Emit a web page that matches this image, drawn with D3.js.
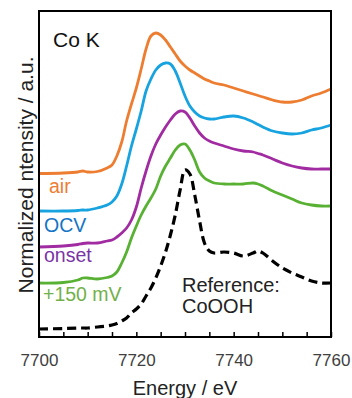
<!DOCTYPE html>
<html><head><meta charset="utf-8">
<script src="https://cdn.jsdelivr.net/npm/d3@7"></script>
<style>html,body{margin:0;padding:0;background:#fff;}svg{display:block;}</style>
</head><body>
<svg id="chart" width="352" height="398"></svg>
<script>
// Energy grid (eV)
const energy = [7700,7705,7708,7709,7710,7712,7714,7715,7716,7717,7718,7719,7720,7721,7722,7723,7724,7725,7726,7727,7728,7729,7730,7731,7732,7733,7734,7735,7736,7738,7740,7742,7744,7745,7746,7748,7750,7752,7754,7756,7758,7760];
// Normalized intensities (offset, a.u.)
const air = [163.5,164,165,166,165,165.5,169,172,181,195,216,233,249,268,288,301,304,302,297,290,283,276,271,267,264,261,258,256,254,252,249,246,243,241.5,240,237,235,235,237,241,244,248];
const ocv = [126,126,126.5,127,127,129,132,135,141,153,171,191,208,226,246,258,267,272,274,273,266,254,241,231,225,221,219,218,218,220,221,219,215,212.5,210,206,204,203,204,207,209,212];
const onset = [90,91,92.5,93.5,94,94,96,97,100,104,109,117,130,149,166,181,193,202,210,217,223,226,225,219,211,204,199,196,194,191,188,186,185,183.5,182,178,174,171,169,168,168,168];
const plus150 = [54,54.5,57,59,59,58,59.5,61,65,74,85,99,111,122,131,139,148,161,171,179,187,192,193,187,177,165,159,156,154,153,153,153,154,153,151,146,142,138,134,132,131,131];
const reference = [8,8.5,9,9,9,10,11,12,13.5,16,19,24,28,33,41,49,59,71,85,102,122,147,167,163,142,116,94,86,84,85,84,81,84,86,84,76,69,64,60,56,54,54];

const seriesNames = ["air","OCV","onset","+150 mV","Reference: CoOOH"];
const xTickLabels = [7700,7720,7740,7760];
const xMinorTicks = [7700,7705,7710,7715,7720,7725,7730,7735,7740,7745,7750,7755,7760];

const svg = d3.select("#chart");
const m = {left:39, top:11, right:331, bottom:337};
const x = d3.scaleLinear().domain([7700,7760]).range([m.left, m.right]);
const y = d3.scaleLinear().domain([0,326]).range([m.bottom, m.top]);

const font = "'Liberation Sans', Arial, sans-serif";

const series = [
  {name: seriesNames[0], vals: air, color:"#ED7D31", label:"#ED7D31", lx:49, ly:193},
  {name: seriesNames[1], vals: ocv, color:"#16A3DF", label:"#1574C4", lx:44, ly:232},
  {name: seriesNames[2], vals: onset, color:"#A12BA1", label:"#7A34A6", lx:44, ly:262},
  {name: seriesNames[3], vals: plus150, color:"#58B133", label:"#72B04A", lx:43, ly:301},
];

const line = d3.line().x((d,i)=>x(energy[i])).y(d=>y(d)).curve(d3.curveCatmullRom.alpha(0.5));

// reference dashed
svg.append("path").datum(reference).attr("d", line)
  .attr("fill","none").attr("stroke","#000").attr("stroke-width",3.2)
  .attr("stroke-dasharray","9,5");

series.slice().reverse().forEach(s=>{
  svg.append("path").datum(s.vals).attr("d", line)
    .attr("fill","none").attr("stroke",s.color).attr("stroke-width",2.8)
    .attr("stroke-linejoin","round");
});

// frame
svg.append("rect").attr("x",m.left).attr("y",m.top)
  .attr("width",m.right-m.left).attr("height",m.bottom-m.top)
  .attr("fill","none").attr("stroke","#000").attr("stroke-width",2);

// bottom axis with inward ticks
const xAxis = d3.axisBottom(x).tickValues(xMinorTicks).tickSize(-5).tickSizeOuter(0)
  .tickFormat(d => xTickLabels.includes(d) ? d : "");
const gx = svg.append("g").attr("transform",`translate(0,${m.bottom})`).call(xAxis);
gx.select(".domain").remove();
gx.selectAll(".tick line").attr("stroke","#000").attr("stroke-width",1.5);
gx.selectAll(".tick text").attr("font-family",font).attr("font-size",17)
  .attr("fill","#404040").attr("y",17).attr("dy","0.71em");

// axis titles
svg.append("text").attr("x",185).attr("y",395).attr("text-anchor","middle")
  .attr("font-family",font).attr("font-size",20).attr("fill","#222").text("Energy / eV");
svg.append("text").attr("transform","translate(33,175) rotate(-90)").attr("text-anchor","middle")
  .attr("font-family",font).attr("font-size",21).attr("fill","#222").text("Normalized ntensity / a.u.");

// annotations
svg.append("text").attr("x",53).attr("y",47).attr("font-family",font).attr("font-size",21)
  .attr("fill","#111").text("Co K");
series.forEach(s=>{
  svg.append("text").attr("x",s.lx).attr("y",s.ly).attr("font-family",font).attr("font-size",19.5)
    .attr("fill",s.label).text(s.name);
});
svg.append("text").attr("x",182).attr("y",292).attr("font-family",font).attr("font-size",20)
  .attr("fill","#222").text("Reference:");
svg.append("text").attr("x",182).attr("y",313).attr("font-family",font).attr("font-size",20)
  .attr("fill","#222").text("CoOOH");
</script>
</body></html>
